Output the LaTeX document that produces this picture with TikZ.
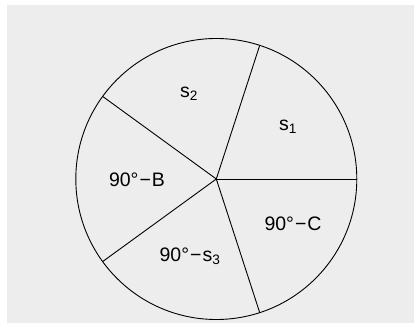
\documentclass[tikz,border=0pt]{standalone}
\usepackage{fontspec}
\setmainfont{Liberation Sans}
\usetikzlibrary{calc}
\begin{document}
\begin{tikzpicture}[x=1pt,y=1pt,
  lbl/.style={font=\fontsize{19.5}{21}\selectfont, inner sep=0pt},
  edge/.style={line width=0.9pt, black}]
\useasboundingbox (0,0) rectangle (414,323);
\fill[white] (0,0) rectangle (414,323);
\fill[black!7] (7,0) rectangle (414,318);
\coordinate (O) at (216.3,144);
\draw[edge] (O) circle[radius=140.5];
\foreach \a/\n in {0/p0,72/p1,144/p2,216/p3,288/p4}{
  \coordinate (\n) at ($(O)+(\a:140.5)$);
}
\foreach \n in {p0,p1,p2,p3,p4}{\draw[edge] (O) -- (\n);}
\node[lbl] (s2) at (189,229) {s\textsubscript{2}};
\node[lbl] (s1) at (288,196) {s\textsubscript{1}};
\node[lbl] (B) at (137,143) {90°\kern1pt−\kern1pt B};
\node[lbl] (C) at (293,99) {90°\kern1pt−\kern1pt C};
\node[lbl] (s3) at (190,67) {90°\kern1pt−\kern1pt s\textsubscript{3}};
\end{tikzpicture}
\end{document}
